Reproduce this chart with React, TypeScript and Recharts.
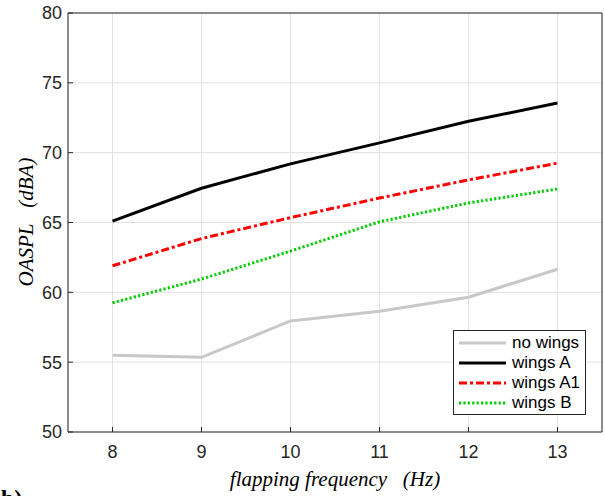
import React from "react";
import { LineChart, Line, XAxis, YAxis, CartesianGrid, Label } from "recharts";

const frequencies = [8, 9, 10, 11, 12, 13];
const noWings = [55.5, 55.35, 57.95, 58.65, 59.65, 61.65];
const wingsA = [65.1, 67.45, 69.2, 70.7, 72.25, 73.55];
const wingsA1 = [61.9, 63.85, 65.35, 66.75, 68.05, 69.25];
const wingsB = [59.25, 60.95, 62.95, 65.05, 66.4, 67.4];

const xTicks = [8, 9, 10, 11, 12, 13];
const yTicks = [50, 55, 60, 65, 70, 75, 80];

const SERIES = [
  { key: "noWings", name: "no wings", color: "#c8c8c8", dash: undefined, width: 3 },
  { key: "wingsA", name: "wings A", color: "#000000", dash: undefined, width: 3 },
  { key: "wingsA1", name: "wings A1", color: "#ff0000", dash: "8 3 3 3", width: 3 },
  { key: "wingsB", name: "wings B", color: "#00cc00", dash: "2.2 2.2", width: 3 },
];

const data = frequencies.map((f, i) => ({
  f,
  noWings: noWings[i],
  wingsA: wingsA[i],
  wingsA1: wingsA1[i],
  wingsB: wingsB[i],
}));

const AXIS = "#262626";
const tickFont = { fontSize: 18, fill: AXIS, fontFamily: "Liberation Sans, Arial, sans-serif" };
const titleFont = "Liberation Serif, Times New Roman, serif";

function ChartLegend() {
  return (
    <div
      style={{
        position: "absolute",
        left: 453,
        top: 330,
        width: 131,
        height: 83,
        border: `1px solid ${AXIS}`,
        background: "#fff",
        fontFamily: "Liberation Sans, Arial, sans-serif",
        fontSize: 17,
        color: "#000",
      }}
    >
      {SERIES.map((s, i) => (
        <div
          key={s.key}
          style={{ position: "absolute", left: 4, top: 2 + i * 20, height: 20, display: "flex", alignItems: "center" }}
        >
          <svg width={48} height={20}>
            <line x1={1} x2={48} y1={10} y2={10} stroke={s.color} strokeWidth={s.width} strokeDasharray={s.dash} />
          </svg>
          <span style={{ marginLeft: 6, whiteSpace: "nowrap" }}>{s.name}</span>
        </div>
      ))}
    </div>
  );
}

export default function App() {
  return (
    <div style={{ position: "absolute", left: 0, top: 0, width: 605, height: 496, background: "#fff", overflow: "hidden" }}>
      <LineChart width={605} height={496} data={data} margin={{ top: 12, right: 2, left: 0, bottom: 0 }}>
        <CartesianGrid stroke="#e2e2e2" strokeWidth={1} />
        <XAxis
          dataKey="f"
          type="number"
          domain={[7.5, 13.5]}
          ticks={xTicks}
          height={64}
          stroke={AXIS}
          tickSize={-5}
          tickMargin={18}
          tick={tickFont}
        >
          <Label
            content={() => (
              <text x={335} y={486} textAnchor="middle" fontFamily={titleFont} fontStyle="italic" fontSize={21} fill="#000">
                {"flapping frequency\u00a0\u00a0\u00a0(Hz)"}
              </text>
            )}
          />
        </XAxis>
        <XAxis
          xAxisId="top"
          orientation="top"
          type="number"
          domain={[7.5, 13.5]}
          ticks={xTicks}
          height={1}
          stroke={AXIS}
          tickSize={-5}
          tick={false}
        />
        <YAxis
          type="number"
          domain={[50, 80]}
          ticks={yTicks}
          width={68}
          stroke={AXIS}
          tickSize={-5}
          tickMargin={11}
          tick={tickFont}
        >
          <Label
            content={() => (
              <text
                x={33}
                y={222}
                transform="rotate(-90 33 222)"
                textAnchor="middle"
                fontFamily={titleFont}
                fontStyle="italic"
                fontSize={21}
                fill="#000"
              >
                {"OASPL\u00a0\u00a0\u00a0(dBA)"}
              </text>
            )}
          />
        </YAxis>
        <YAxis
          yAxisId="right"
          orientation="right"
          type="number"
          domain={[50, 80]}
          ticks={yTicks}
          width={1}
          stroke={AXIS}
          tickSize={-5}
          tick={false}
        />
        {SERIES.map((s) => (
          <Line
            key={s.key}
            dataKey={s.key}
            name={s.name}
            stroke={s.color}
            strokeWidth={s.width}
            strokeDasharray={s.dash}
            dot={false}
            activeDot={false}
            isAnimationActive={false}
          />
        ))}
      </LineChart>
      <ChartLegend />
      <div
        style={{
          position: "absolute",
          left: 1,
          top: 486,
          fontFamily: titleFont,
          fontWeight: "bold",
          fontSize: 24,
          lineHeight: "24px",
          color: "#000",
        }}
      >
        b)
      </div>
    </div>
  );
}
